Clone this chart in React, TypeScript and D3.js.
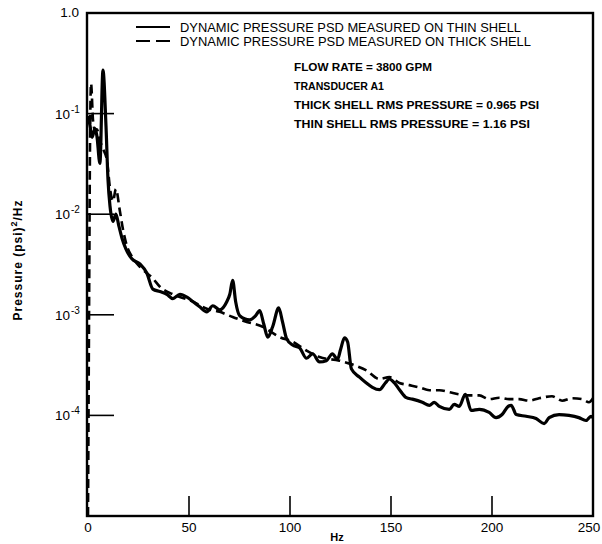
import React, { useEffect } from "react";
import * as d3 from "d3";

// thin shell PSD (solid)
const thinHz = [0, 1, 2, 3.5, 4.4, 5.9, 7.4, 8.9, 9.9, 10.9, 12.4, 13.8, 15.3, 16.8, 18.8, 21.7, 25.7, 29.1, 32.1, 35.6, 39, 42, 45.5, 49, 52, 55.3, 58.8, 61.8, 65.2, 68.7, 70.2, 71.6, 73.1, 75.1, 80, 83, 85, 87, 89, 91.4, 94.4, 96.3, 98.3, 101.3, 104.7, 108.2, 111.2, 114.6, 118, 121, 123.5, 125, 127, 128.5, 130.4, 134.4, 137.8, 140.8, 144.3, 147.2, 149.2, 151.7, 154.2, 157.6, 160.6, 165.5, 169, 171.4, 173.9, 178.9, 181.3, 183.8, 186.8, 189.7, 193.7, 198.6, 202, 205, 208, 209.5, 212, 216.9, 221.8, 225.8, 228.3, 233.2, 238.1, 243, 246.5, 249, 250];
const thinPsd = [0.095, 0.076, 0.058, 0.071, 0.06, 0.032, 0.27, 0.076, 0.022, 0.012, 0.0085, 0.01, 0.0076, 0.0058, 0.0045, 0.0036, 0.0032, 0.0026, 0.0018, 0.0017, 0.0016, 0.00145, 0.0016, 0.0015, 0.00135, 0.0012, 0.00107, 0.00123, 0.00112, 0.00135, 0.0016, 0.0022, 0.00135, 0.00098, 0.00089, 0.00098, 0.0011, 0.00081, 0.0006, 0.00076, 0.00117, 0.00085, 0.00058, 0.0005, 0.00047, 0.00037, 0.00041, 0.00034, 0.00035, 0.00041, 0.00036, 0.00045, 0.00059, 0.00054, 0.00029, 0.00024, 0.00021, 0.00019, 0.00018, 0.00021, 0.00023, 0.00021, 0.00018, 0.00015, 0.000145, 0.000135, 0.000126, 0.000135, 0.000123, 0.000115, 0.000129, 0.000123, 0.000162, 0.000112, 0.000115, 0.000107, 0.000095, 0.000102, 0.000123, 0.000126, 0.000102, 0.000098, 0.000093, 0.000083, 0.000095, 0.000102, 0.0001, 0.000095, 0.000089, 0.000098, 0.000095];

// thick shell PSD (dashed)
const thickHz = [0, 0.6, 1.0, 1.5, 2.5, 3.5, 4.4, 5.9, 7.4, 9.4, 10.9, 12.4, 13.8, 15.8, 17.3, 19.3, 21.7, 25.7, 32.1, 35.6, 42, 52, 58.8, 65.2, 71.6, 78.6, 86.5, 94.9, 101.3, 108.2, 114.6, 124.5, 131, 137.8, 144.3, 149.2, 154.2, 159.1, 164, 169, 174, 178.9, 183.8, 188.7, 193.7, 198.6, 203.6, 208.5, 213.4, 218.4, 223.3, 229.7, 234.7, 239.6, 244.6, 248, 250];
const thickPsd = [0.00001, 0.002, 0.05, 0.2, 0.085, 0.068, 0.07, 0.054, 0.045, 0.034, 0.018, 0.0135, 0.0178, 0.0107, 0.0071, 0.0048, 0.0038, 0.003, 0.0023, 0.0019, 0.0016, 0.00135, 0.00115, 0.00107, 0.00095, 0.00085, 0.00076, 0.0006, 0.00054, 0.00044, 0.00038, 0.00035, 0.00032, 0.00028, 0.00023, 0.00024, 0.00021, 0.0002, 0.00019, 0.000178, 0.000178, 0.00017, 0.000162, 0.000158, 0.000158, 0.000145, 0.00015, 0.000145, 0.000145, 0.00014, 0.000148, 0.000155, 0.00014, 0.000148, 0.000145, 0.000135, 0.000148];

const xTicks = [0, 50, 100, 150, 200, 250];
const yTicks = [1e-1, 1e-2, 1e-3, 1e-4];
const yTickExp = ["-1", "-2", "-3", "-4"];

const legendLabels = [
  "DYNAMIC PRESSURE PSD MEASURED ON THIN SHELL",
  "DYNAMIC PRESSURE PSD MEASURED ON THICK SHELL",
];
const notes = [
  "FLOW RATE = 3800 GPM",
  "TRANSDUCER A1",
  "THICK SHELL RMS PRESSURE = 0.965 PSI",
  "THIN SHELL RMS PRESSURE = 1.16 PSI",
];
const noteWidths = [138, 90, 245, 236];

const App = () => {
  useEffect(() => {
    document.body.style.margin = "0";
  }, []);

  const left = 88, right = 593, top = 13, bottom = 516;
  const x = d3.scaleLinear().domain([0, 250]).range([left, right]);
  const y = d3.scaleLog().domain([1e-5, 1]).range([bottom, top]);

  const line = d3.line<[number, number]>()
    .x(d => x(d[0]))
    .y(d => y(d[1]))
    .curve(d3.curveMonotoneX);

  const thin = thinHz.map((h, i) => [h, thinPsd[i]] as [number, number]);
  const thick = thickHz.map((h, i) => [h, thickPsd[i]] as [number, number]);

  const font = "'Liberation Sans', Arial, sans-serif";

  return (
    <svg width={602} height={544} style={{ display: "block", background: "#fff" }} fontFamily={font}>
      {/* data */}
      <path d={line(thick) || ""} fill="none" stroke="#000" strokeWidth={2.6} strokeDasharray="9 5" />
      <path d={line(thin) || ""} fill="none" stroke="#000" strokeWidth={3.2} strokeLinejoin="round" />

      {/* frame */}
      <rect x={left - 1} y={top} width={right - left + 1} height={bottom - top} fill="none" stroke="#000" strokeWidth={2.4} />

      {/* y ticks */}
      {yTicks.map((t, i) => (
        <g key={t}>
          <line x1={left} x2={left + 26} y1={y(t)} y2={y(t)} stroke="#000" strokeWidth={1.6} />
          <text x={70} y={y(t) + 5} textAnchor="end" fontSize={13.5}>10</text>
          <text x={71} y={y(t) - 1} fontSize={10}>{yTickExp[i]}</text>
        </g>
      ))}
      <text x={79} y={y(1) + 4} textAnchor="end" fontSize={13.5}>1.0</text>

      {/* x ticks */}
      {xTicks.map(t => (
        <g key={t}>
          {t > 0 && t < 250 && (
            <line x1={x(t)} x2={x(t)} y1={bottom} y2={bottom - 20} stroke="#000" strokeWidth={1.6} />
          )}
          <text x={t === 250 ? 589 : x(t)} y={bottom + 16} textAnchor="middle" fontSize={13.5}>{t}</text>
        </g>
      ))}
      <text x={337} y={541} textAnchor="middle" fontSize={11} fontWeight="bold">Hz</text>

      {/* y title */}
      <text transform="translate(22,260) rotate(-90)" textAnchor="middle" fontSize={12} fontWeight="bold" letterSpacing={1}>
        Pressure (psi)<tspan dy={-5} fontSize={9}>2</tspan><tspan dy={5}>/Hz</tspan>
      </text>

      {/* legend */}
      <line x1={136} x2={170} y1={27} y2={27} stroke="#000" strokeWidth={2} />
      <line x1={136} x2={170} y1={41} y2={41} stroke="#000" strokeWidth={2} strokeDasharray="14 6" />
      {legendLabels.map((l, i) => (
        <text key={l} x={180} y={32 + i * 14} fontSize={13} textLength={i === 0 ? 341 : 351} lengthAdjust="spacingAndGlyphs">{l}</text>
      ))}

      {/* notes */}
      {notes.map((n, i) => (
        <text key={n} x={294} y={71 + i * 19} fontSize={11} fontWeight="bold" textLength={noteWidths[i]} lengthAdjust="spacingAndGlyphs">{n}</text>
      ))}
    </svg>
  );
};

export default App;
